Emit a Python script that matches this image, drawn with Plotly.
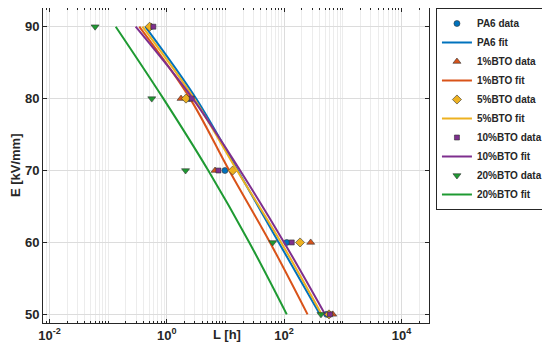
import plotly.graph_objects as go

# ---- data ----
E_levels = [90, 80, 70, 60, 50]

pa6_data = [0.53, 2.4, 9.8, 111, 531]
bto1_data = [0.54, 1.75, 6.65, 284, 675]
bto5_data = [0.51, 2.13, 13.3, 187, 582]
bto10_data = [0.59, 2.67, 7.6, 135, 605]
bto20_data = [0.060, 0.555, 2.09, 64, 425]

pa6_fit = [0.43, 3.16, 16.2, 81, 407]
bto1_fit = [0.34, 2.5, 11.6, 57.5, 251]
bto5_fit = [0.385, 2.92, 15.8, 89, 437]
bto10_fit = [0.295, 2.77, 17.8, 100, 500]
bto20_fit = [0.135, 0.875, 5.1, 25.5, 111]

series_names = ["PA6", "1%BTO", "5%BTO", "10%BTO", "20%BTO"]
colors = ["#0072BD", "#D95319", "#EDB120", "#7E2F8E", "#1E9A32"]
symbols = ["circle", "triangle-up", "diamond", "square", "triangle-down"]
sizes = [6, 7, 7, 5, 7]

x_tickvals = [1e-2, 1e0, 1e2, 1e4]
x_ticktext = ["10<sup>-2</sup>", "10<sup>0</sup>", "10<sup>2</sup>", "10<sup>4</sup>"]
y_tickvals = [50, 60, 70, 80, 90]

datas = [pa6_data, bto1_data, bto5_data, bto10_data, bto20_data]
fits = [pa6_fit, bto1_fit, bto5_fit, bto10_fit, bto20_fit]

FONT = "Liberation Sans"

fig = go.Figure()
for name, col, sym, sz, d, f in zip(series_names, colors, symbols, sizes, datas, fits):
    fig.add_trace(go.Scatter(
        x=d, y=E_levels, mode="markers", name=f"{name} data",
        marker=dict(symbol=sym, size=sz, color=col, line=dict(color="#333333", width=0.6)),
    ))
    fig.add_trace(go.Scatter(
        x=f, y=E_levels, mode="lines", name=f"{name} fit",
        line=dict(color=col, width=2, shape="spline", smoothing=1.0),
    ))

axis_common = dict(
    showline=True, linecolor="#262626", linewidth=1, mirror="ticks",
    ticks="inside", ticklen=4, tickcolor="#262626",
    showgrid=True, gridcolor="#dcdcdc", gridwidth=1, zeroline=False,
    automargin=False,
    tickfont=dict(family=FONT, size=13, color="#262626", weight="bold"),
)

fig.update_xaxes(
    type="log", range=[-2.11, 4.47],
    tickmode="array", tickvals=x_tickvals, ticktext=x_ticktext,
    minor=dict(dtick="D1", ticks="inside", ticklen=2, tickcolor="#262626", showgrid=True,
               gridcolor="#ececec", gridwidth=1),
    **axis_common,
)
fig.update_yaxes(
    range=[48.8, 92.6], tickmode="array", tickvals=y_tickvals,
    **axis_common,
)

fig.add_annotation(text="L [h]", x=0.477, y=-0.035, xref="paper", yref="paper",
                   xanchor="center", yanchor="middle", showarrow=False,
                   font=dict(family=FONT, size=13, color="#262626", weight="bold"))
fig.add_annotation(text="E [kV/mm]", x=-0.071, y=0.5, xref="paper", yref="paper",
                   xanchor="center", yanchor="middle", showarrow=False, textangle=-90,
                   font=dict(family=FONT, size=13, color="#262626", weight="bold"))

# the page body adds an 8px offset, so the figure is sized to 542x340
fig.update_layout(
    width=542, height=340,
    margin=dict(l=35, r=121, t=0, b=25, autoexpand=False),
    paper_bgcolor="white", plot_bgcolor="white",
    showlegend=True,
    legend=dict(x=1.018, y=1.0, xanchor="left", yanchor="top",
                bordercolor="#262626", borderwidth=1, bgcolor="white",
                tracegroupgap=0, itemwidth=30,
                font=dict(family=FONT, size=10, color="#262626", weight="bold")),
)

fig.write_html("out.html", config={"displayModeBar": False})
